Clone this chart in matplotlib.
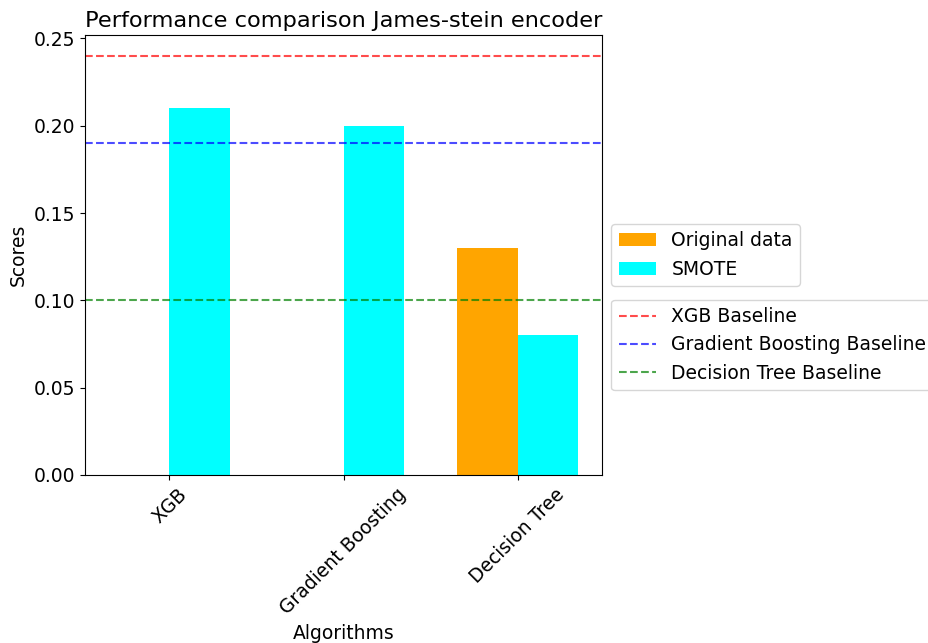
import numpy as np
import matplotlib
matplotlib.use('Agg')
import matplotlib.pyplot as plt

plt.rcParams['font.size'] = 13.5

algorithms = ['XGB', 'Gradient Boosting', 'Decision Tree']
original_scores = [0.0, 0.0, 0.13]
smote_scores = [0.21, 0.20, 0.08]

baseline_names = ['XGB Baseline', 'Gradient Boosting Baseline', 'Decision Tree Baseline']
baseline_scores = [0.24, 0.19, 0.10]
baseline_colors = ['r', 'b', 'g']

width = 0.35
x = np.arange(len(algorithms))

fig = plt.figure(figsize=(9.29, 6.43), dpi=100)
ax = fig.add_axes([85 / 929, 1 - 475 / 643, 517 / 929, 440 / 643])

bars1 = ax.bar(x - width / 2, original_scores, width, label='Original data', color='orange')
bars2 = ax.bar(x + width / 2, smote_scores, width, label='SMOTE', color='cyan')

# dashed baseline for each model
lines = []
for name, score, col in zip(baseline_names, baseline_scores, baseline_colors):
    ln = ax.axhline(score, color=col, linestyle='--', alpha=0.7, label=name)
    lines.append(ln)

ax.set_title('Performance comparison James-stein encoder', fontsize=16.2)
ax.set_xlabel('Algorithms')
ax.set_ylabel('Scores')
ax.set_xticks(x)
ax.set_xticklabels(algorithms, rotation=45)

leg1 = ax.legend(handles=[bars1, bars2], loc='center left', bbox_to_anchor=(1, 0.5))
ax.add_artist(leg1)
ax.legend(handles=lines, loc='upper left', bbox_to_anchor=(1, 0.42))

fig.savefig('out.png', dpi=100)
